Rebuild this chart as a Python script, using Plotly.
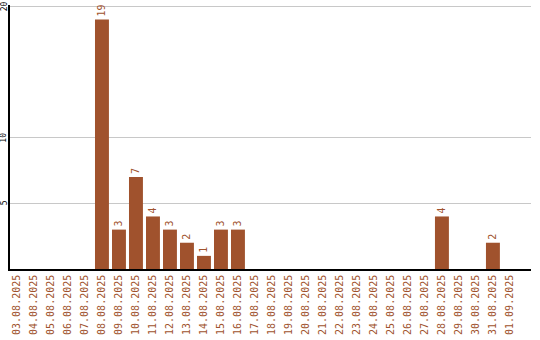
import plotly.graph_objects as go

dates = ["03.08.2025", "04.08.2025", "05.08.2025", "06.08.2025", "07.08.2025",
         "08.08.2025", "09.08.2025", "10.08.2025", "11.08.2025", "12.08.2025",
         "13.08.2025", "14.08.2025", "15.08.2025", "16.08.2025", "17.08.2025",
         "18.08.2025", "19.08.2025", "20.08.2025", "21.08.2025", "22.08.2025",
         "23.08.2025", "24.08.2025", "25.08.2025", "26.08.2025", "27.08.2025",
         "28.08.2025", "29.08.2025", "30.08.2025", "31.08.2025", "01.09.2025"]
counts = [0, 0, 0, 0, 0,
          19, 3, 7, 4, 3,
          2, 1, 3, 3, 0,
          0, 0, 0, 0, 0,
          0, 0, 0, 0, 0,
          4, 0, 0, 2, 0]
y_ticks = [5, 10, 20]

labels = [str(v) if v > 0 else "" for v in counts]

fig = go.Figure(go.Bar(
    x=dates, y=counts, text=labels,
    textposition="outside", textangle=-90,
    textfont=dict(family="DejaVu Sans Mono", size=10, color="#A0522D"),
    marker=dict(color="#A0522D", line=dict(width=0)),
    cliponaxis=False,
))

fig.update_layout(
    width=540, height=340,
    margin=dict(l=10, r=9, t=5, b=71),
    paper_bgcolor="white", plot_bgcolor="white",
    bargap=0.18, showlegend=False,
    font=dict(family="DejaVu Sans Mono"),
)
fig.update_xaxes(
    type="category", range=[-0.41, 30.24], automargin=False,
    tickangle=-90, tickfont=dict(family="DejaVu Sans Mono", size=10, color="#A0522D"),
    showline=True, linecolor="black", linewidth=1.5, showgrid=False, ticks="",
)
fig.update_yaxes(
    range=[0, 20.1], tickvals=y_ticks, showticklabels=False, automargin=False,
    showline=True, linecolor="black", linewidth=1.5,
    showgrid=True, gridcolor="#c8c8c8", gridwidth=1, zeroline=False, ticks="",
)

for t in y_ticks:
    fig.add_annotation(
        x=0, xref="paper", y=t, yref="y", text=str(t), showarrow=False,
        textangle=-90, xanchor="center", yanchor="middle", xshift=-6,
        font=dict(family="DejaVu Sans Mono", size=8, color="black"),
    )

fig.write_html("out.html")
